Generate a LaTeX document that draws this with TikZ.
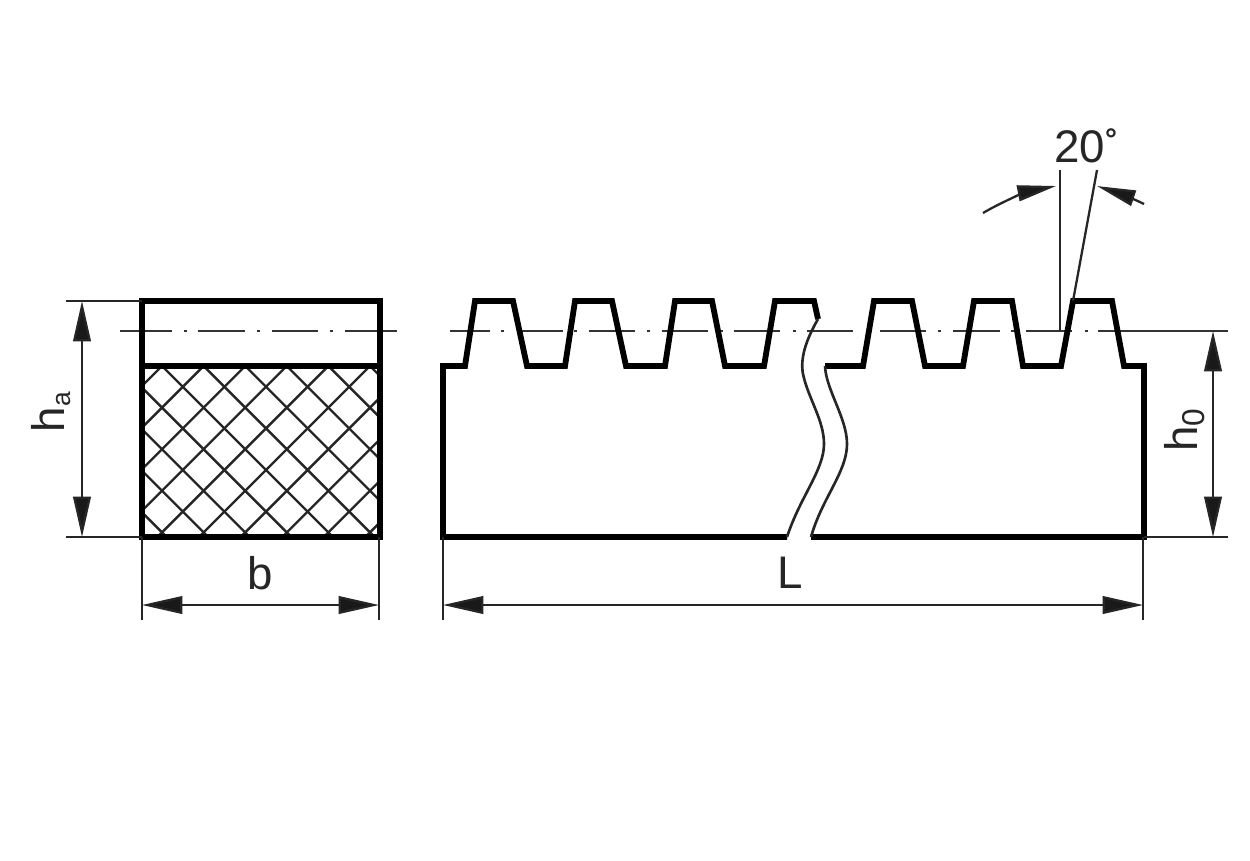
\documentclass[tikz,border=0pt]{standalone}
\usepackage{fontspec}
\setmainfont{Liberation Sans}
\usetikzlibrary{arrows.meta}
\tikzset{
  x=0.02cm,y=-0.02cm,
  heavy/.style={line width=3.3pt,line join=miter,line cap=butt,draw=black},
  thinl/.style={line width=1.3pt,draw=black!85},
  hatchl/.style={line width=1.35pt,draw=black!85},
  breakl/.style={line width=1.5pt,draw=black!85},
  center/.style={line width=1.3pt,draw=black!80},
  dimline/.style={thinl,{Stealth[length=23pt,width=10pt,inset=0pt,fill=black!90]}-{Stealth[length=23pt,width=10pt,inset=0pt,fill=black!90]}},
  angtip/.style={thinl,-{Stealth[length=22pt,width=9pt,inset=0pt,fill=black!90]}},
  lab/.style={font=\fontsize{26}{26}\selectfont,text=black!85,inner sep=0pt}
}
\begin{document}
\begin{tikzpicture}
\useasboundingbox[fill=white] (0,0) rectangle (1250,860);
% hatching
\begin{scope}
\clip (142,366) rectangle (380,537);
\foreach \k in {-8,...,12}{
  \draw[hatchl] ({162+41.6*\k},366) -- ++(190,190);
  \draw[hatchl] ({162+41.6*\k},366) -- ++(-190,190);
}
\end{scope}
% centre lines
\foreach \a/\b in {120/172,184/187,198/245,257/260,272/318,330/333,345/397,
  450/490,501/504,522/563,574/577,589/635,647/650,662/708,720/723,734/780,793/796,807/853,866/869,880/926,938/941,953/1000,1011/1014,1026/1072,1085/1088,1098/1228}{
  \draw[center] (\a,331) -- (\b,331);
}
% left view
\draw[heavy] (142,301) rectangle (380,537);
\draw[heavy] (142,366) -- (380,366);
% rack
\draw[heavy] (787,537) -- (443,537) -- (443,366) -- (465,366) -- (475,301) -- (513,301) -- (527,366) -- (565,366) -- (575,301) -- (612,301) -- (626,366) -- (665,366) -- (675,301) -- (712,301) -- (725,366) -- (764,366) -- (775,301) -- (814,301) -- (818,319);
\draw[heavy] (825,366) -- (863,366) -- (874,301) -- (912,301) -- (925,366) -- (963,366) -- (974,301) -- (1012,301) -- (1023,366) -- (1061,366) -- (1073,301) -- (1112,301) -- (1124,366) -- (1144,366) -- (1144,537) -- (811,537);
% break lines
\draw[breakl] (818,319) .. controls (806,340) and (800,358) .. (803,374) .. controls (808,398) and (824,420) .. (824,444) .. controls (824,470) and (800,497) .. (787,537);
\draw[breakl] (825,366) .. controls (826,390) and (847,418) .. (847,444) .. controls (847,472) and (822,498) .. (811,537);
% extension lines
\draw[thinl] (66,301) -- (142,301);
\draw[thinl] (66,537) -- (142,537);
\draw[thinl] (142,537) -- (142,620);
\draw[thinl] (379,537) -- (379,620);
\draw[thinl] (443,537) -- (443,620);
\draw[thinl] (1143,537) -- (1143,620);
\draw[thinl] (1144,537) -- (1228,537);
\draw[thinl] (1060,331) -- (1060,170);
\draw[thinl] (1073,301) -- (1097,170);
% dimension lines
\coordinate (hat) at (82,301); \coordinate (hab) at (82,537);
\coordinate (bl) at (142,605); \coordinate (br) at (379,605);
\coordinate (Ll) at (443,605); \coordinate (Lr) at (1143,605);
\coordinate (h0t) at (1213,331); \coordinate (h0b) at (1213,537);
\draw[dimline] (hat) -- (hab);
\draw[dimline] (bl) -- (br);
\draw[dimline] (Ll) -- (Lr);
\draw[dimline] (h0t) -- (h0b);
% angle arrows
\coordinate (a1) at (983,213); \coordinate (a2) at (1056,186);
\coordinate (a3) at (1144,204); \coordinate (a4) at (1097,186);
\draw[angtip] (a1) .. controls (1003,201) and (1030,191) .. (a2);
\draw[angtip] (a3) .. controls (1130,197) and (1112,191) .. (a4);
% labels
\node[lab,rotate=90] (ha) at (51,412) {h\raisebox{-3pt}{\fontsize{15}{15}\selectfont a}};
\node[lab,rotate=90] (h0) at (1185,430) {h\raisebox{-4pt}{\fontsize{18}{18}\selectfont 0}};
\node[lab] (b) at (260,573) {b};
\node[lab] (L) at (790,573) {L};
\node[lab,anchor=base west] (ang) at (1054,162) {20\raisebox{7pt}{\fontsize{17}{17}\selectfont\bfseries °}};
\end{tikzpicture}
\end{document}
